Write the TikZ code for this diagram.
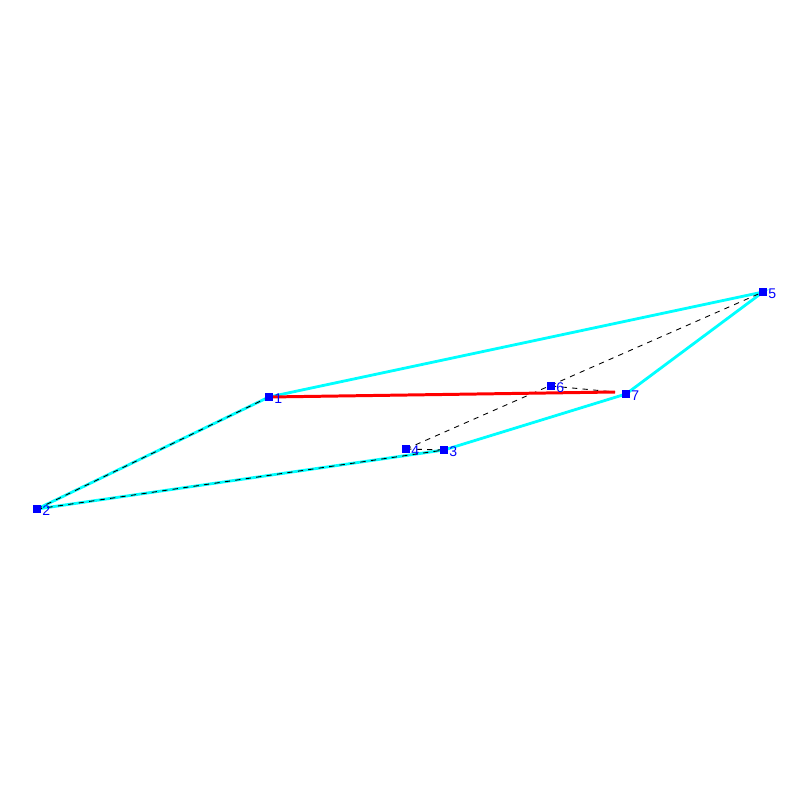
\documentclass[tikz,border=0pt]{standalone}
\usepackage{fontspec}
\setsansfont{Liberation Sans}
\usepackage{tikz}
\usetikzlibrary{calc}

\definecolor{rimcyan}{RGB}{0,255,255}
\definecolor{ptblue}{RGB}{0,0,255}
\definecolor{cutred}{RGB}{255,0,0}

\tikzset{
  vert/.style={fill=ptblue, draw=none, minimum size=0.15cm, inner sep=0pt,
    label={[text=ptblue, font=\sffamily\fontsize{8}{8}\selectfont, inner sep=0.5pt, yshift=-0.03cm]right:#1}},
  rim/.style={rimcyan, line width=1.6pt},
  hid/.style={black, line width=0.5pt, dash pattern=on 3pt off 3pt}
}

\begin{document}
\begin{tikzpicture}[x=0.02cm, y=-0.02cm]
\useasboundingbox (0,0) rectangle (800,800);

    \coordinate (p1) at (269,397);
    \coordinate (p2) at (37,509);
    \coordinate (p3) at (444,450);
    \coordinate (p4) at (406,449);
    \coordinate (p5) at (763,292);
    \coordinate (p6) at (551,386);
    \coordinate (p7) at (626,394);
    \coordinate (e7) at (615,392);

    % visible outline
    \draw[rim] (p2) -- (p1) -- (p5) -- (p7) -- (p3) -- (p2);

    % hidden edges
    \draw[hid] (p2) -- (p1);
    \draw[hid] (p2) -- (p3);
    \draw[hid] (p4) -- (p5);
    \draw[hid] (p4) -- (p3);
    \draw[hid] (p6) -- (e7);

    \draw[cutred, line width=1.7pt] (p1) -- (e7);

    \node[vert=1] (v1) at (p1) {};
    \node[vert=2] (v2) at (p2) {};
    \node[vert=3] (v3) at (p3) {};
    \node[vert=4] (v4) at (p4) {};
    \node[vert=5] (v5) at (p5) {};
    \node[vert=6] (v6) at (p6) {};
    \node[vert=7] (v7) at (p7) {};
\end{tikzpicture}
\end{document}
